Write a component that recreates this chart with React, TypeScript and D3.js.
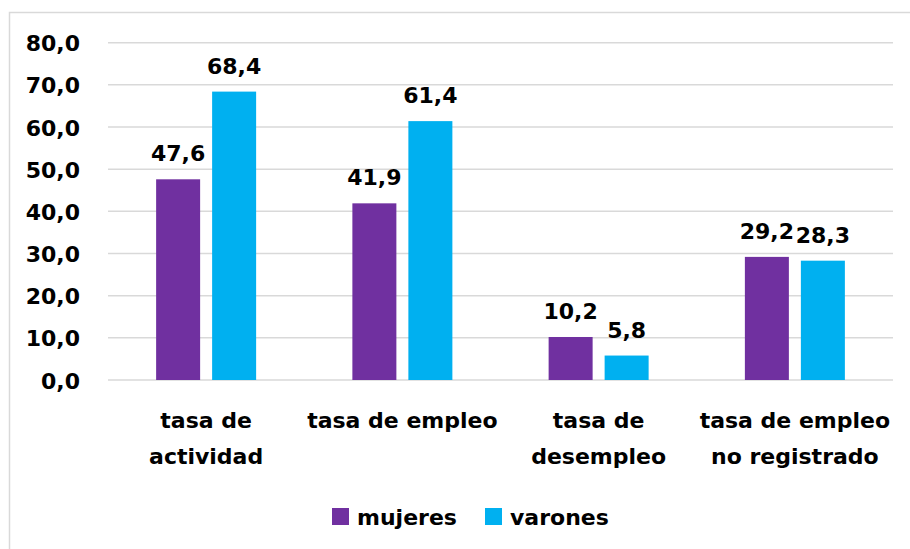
import { useMemo } from "react";
import * as d3 from "d3";

// data
const categories = [
  ["tasa de", "actividad"],
  ["tasa de empleo"],
  ["tasa de", "desempleo"],
  ["tasa de empleo", "no registrado"],
];
const seriesNames = ["mujeres", "varones"];
const mujeres = [47.6, 41.9, 10.2, 29.2];
const varones = [68.4, 61.4, 5.8, 28.3];
const yTicks = [0, 10, 20, 30, 40, 50, 60, 70, 80];

const COLORS = ["#7030A0", "#00B0F0"];
const FONT = "'DejaVu Sans', sans-serif";
const W = 910;
const H = 549;

const fmt = (v: number) => v.toFixed(1).replace(".", ",");

export default function App() {
  const plot = { left: 108, right: 893, top: 42.7, bottom: 380 };

  const x = useMemo(
    () =>
      d3
        .scaleBand<number>()
        .domain(categories.map((_, i) => i))
        .range([plot.left, plot.right])
        .paddingInner(0)
        .paddingOuter(0),
    []
  );
  const y = useMemo(
    () => d3.scaleLinear().domain([0, 80]).range([plot.bottom, plot.top]),
    []
  );

  const barW = 44;
  const gap = 12;
  const series = [mujeres, varones];

  return (
    <svg
      width={W}
      height={H}
      style={{ position: "absolute", left: 0, top: 0, background: "#fff" }}
      fontFamily={FONT}
      fontWeight="bold"
    >
      {/* chart area border */}
      <path d={`M9.5,${H} V12.5 H${W}`} fill="none" stroke="#d9d9d9" strokeWidth={1.5} />

      {/* gridlines + y labels */}
      {yTicks.map((t) => (
        <g key={t}>
          <line
            x1={plot.left}
            x2={plot.right}
            y1={y(t)}
            y2={y(t)}
            stroke="#d9d9d9"
            strokeWidth={1.5}
          />
          <text x={80} y={y(t) + 8.5} textAnchor="end" fontSize={22} fill="#000">
            {fmt(t)}
          </text>
        </g>
      ))}

      {/* bars */}
      {categories.map((_, i) => {
        const cx = x(i)! + x.bandwidth() / 2;
        return (
          <g key={i}>
            {series.map((vals, s) => {
              const bx = s === 0 ? cx - gap / 2 - barW : cx + gap / 2;
              const top = y(vals[i]);
              return (
                <g key={s}>
                  <rect
                    x={bx}
                    y={top}
                    width={barW}
                    height={y(0) - top}
                    fill={COLORS[s]}
                  />
                  <text
                    x={bx + barW / 2}
                    y={top - 18}
                    textAnchor="middle"
                    fontSize={22}
                    fill="#000"
                  >
                    {fmt(vals[i])}
                  </text>
                </g>
              );
            })}
          </g>
        );
      })}

      {/* category labels */}
      {categories.map((lines, i) => {
        const cx = x(i)! + x.bandwidth() / 2;
        return (
          <text key={i} textAnchor="middle" fontSize={22} fill="#000">
            {lines.map((l, j) => (
              <tspan key={j} x={cx} y={428 + j * 36}>
                {l}
              </tspan>
            ))}
          </text>
        );
      })}

      {/* legend */}
      {seriesNames.map((name, s) => {
        const lx = s === 0 ? 332 : 485;
        return (
          <g key={name}>
            <rect x={lx} y={508} width={17} height={17} fill={COLORS[s]} />
            <text x={lx + 25} y={525} fontSize={22} fill="#000">
              {name}
            </text>
          </g>
        );
      })}
    </svg>
  );
}
